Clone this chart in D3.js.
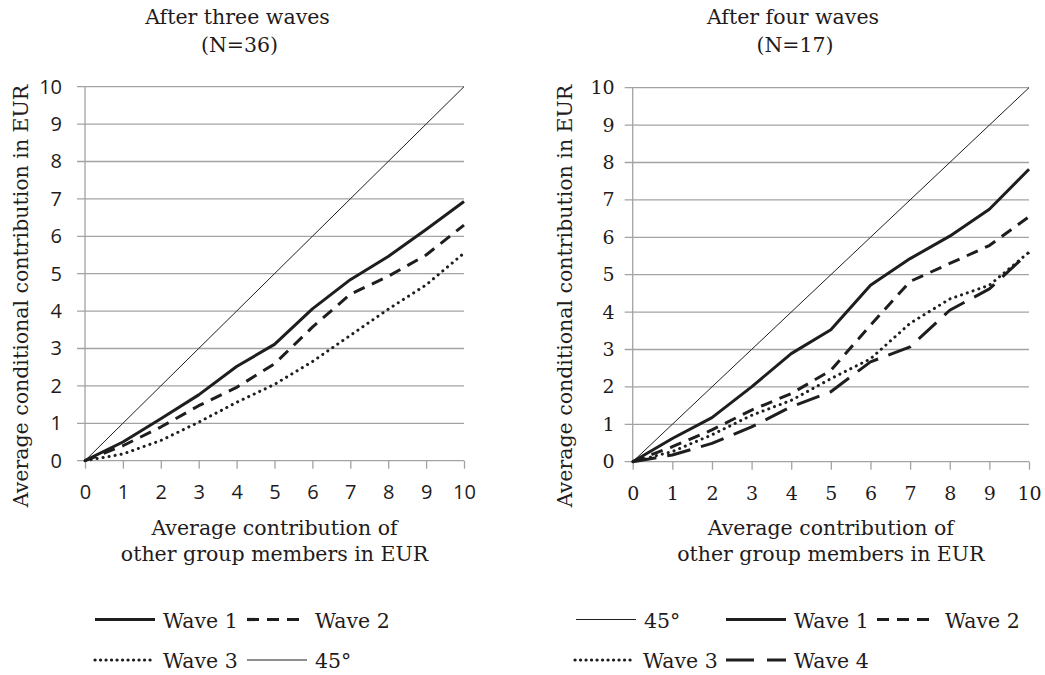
<!DOCTYPE html>
<html>
<head>
<meta charset="utf-8">
<script src="https://cdn.jsdelivr.net/npm/d3@7"></script>
<style>
  body { margin: 0; background: #fff; }
  svg { display: block; }
</style>
</head>
<body>
<div id="chart"></div>
<script>
// x values (average contribution of others, EUR)
const xVals = [0, 1, 2, 3, 4, 5, 6, 7, 8, 9, 10];
const ticks = [0, 1, 2, 3, 4, 5, 6, 7, 8, 9, 10];
const diag = [0, 1, 2, 3, 4, 5, 6, 7, 8, 9, 10];

// after three waves (N=36)
const threeWave1 = [0, 0.5, 1.12, 1.76, 2.52, 3.11, 4.06, 4.84, 5.46, 6.18, 6.93];
const threeWave2 = [0, 0.4, 0.9, 1.47, 1.96, 2.59, 3.57, 4.45, 4.93, 5.5, 6.3];
const threeWave3 = [0, 0.18, 0.54, 1.03, 1.56, 2.04, 2.65, 3.35, 4.05, 4.7, 5.55];

// after four waves (N=17)
const fourWave1 = [0, 0.62, 1.18, 2.0, 2.89, 3.53, 4.72, 5.43, 6.03, 6.75, 7.82];
const fourWave2 = [0, 0.4, 0.85, 1.38, 1.82, 2.44, 3.65, 4.82, 5.3, 5.78, 6.55];
const fourWave3 = [0, 0.27, 0.72, 1.24, 1.64, 2.22, 2.75, 3.7, 4.35, 4.72, 5.6];
const fourWave4 = [0, 0.18, 0.49, 0.93, 1.47, 1.87, 2.67, 3.07, 4.05, 4.62, 5.6];

const serif = "'DejaVu Serif', serif";
const sans = "'Open Sans', sans-serif";
const ink = "#1f1b1c";
const gridCol = "#a3a3a3";
const textSize = 20.5;

// line styles
const styles = {
  "45°":    { width: 1, dash: null, cap: "butt" },
  "Wave 1": { width: 3, dash: null, cap: "butt" },
  "Wave 2": { width: 3, dash: "12,8", cap: "butt" },
  "Wave 3": { width: 3, dash: "0.1,6", cap: "round" },
  "Wave 4": { width: 3, dash: "24,11", cap: "butt" }
};

const svg = d3.select("#chart").append("svg")
  .attr("width", 1045)
  .attr("height", 675);

function drawPanel(cfg) {
  const x = d3.scaleLinear().domain([0, 10]).range([cfg.x0, cfg.x1]);
  const y = d3.scaleLinear().domain([0, 10]).range([cfg.y0, cfg.y1]);
  const g = svg.append("g");

  // gridlines incl. the tick stub on the left
  g.selectAll(".grid")
    .data(ticks)
    .enter()
    .append("line")
    .attr("x1", cfg.x0 - 8)
    .attr("x2", cfg.x1)
    .attr("y1", d => y(d))
    .attr("y2", d => y(d))
    .attr("stroke", gridCol)
    .attr("stroke-width", 1.3);

  // vertical axis line
  g.append("line")
    .attr("x1", cfg.x0).attr("x2", cfg.x0)
    .attr("y1", y(0)).attr("y2", y(10))
    .attr("stroke", gridCol)
    .attr("stroke-width", 1.3);

  // y tick labels
  const yAxis = g.append("g")
    .attr("transform", "translate(" + cfg.x0 + ",0)")
    .call(d3.axisLeft(y).tickValues(ticks).tickSize(8).tickPadding(cfg.yPad).tickSizeOuter(0));
  yAxis.select(".domain").remove();
  yAxis.selectAll("line").remove();
  yAxis.selectAll("text")
    .attr("font-family", cfg.tickFont)
    .attr("font-size", cfg.tickSize)
    .attr("fill", ink);

  // x axis ticks + labels
  const xAxis = g.append("g")
    .attr("transform", "translate(0," + cfg.y0 + ")")
    .call(d3.axisBottom(x).tickValues(ticks).tickSize(8).tickSizeOuter(0));
  xAxis.select(".domain").remove();
  xAxis.selectAll("line").attr("stroke", gridCol).attr("stroke-width", 1.3);
  xAxis.selectAll("text")
    .attr("y", cfg.xLabelY)
    .attr("dy", 0)
    .attr("font-family", cfg.tickFont)
    .attr("font-size", cfg.tickSize)
    .attr("fill", ink);

  // series
  const line = d3.line()
    .x((d, i) => x(xVals[i]))
    .y(d => y(d));

  cfg.series.forEach(s => {
    const st = styles[s.name];
    g.append("path")
      .datum(s.values)
      .attr("d", line)
      .attr("fill", "none")
      .attr("stroke", "#1e1e1e")
      .attr("stroke-width", st.width)
      .attr("stroke-dasharray", st.dash)
      .attr("stroke-linecap", st.cap)
      .attr("stroke-linejoin", "round");
  });

  // titles
  const mid = (cfg.x0 + cfg.x1) / 2;
  g.append("text")
    .attr("x", cfg.titleX).attr("y", 24)
    .attr("text-anchor", "middle")
    .attr("font-family", serif).attr("font-size", textSize).attr("fill", ink)
    .text(cfg.title);
  g.append("text")
    .attr("x", cfg.titleX + 2).attr("y", 52)
    .attr("text-anchor", "middle")
    .attr("font-family", serif).attr("font-size", textSize).attr("fill", ink)
    .text(cfg.n);

  g.append("text")
    .attr("x", mid).attr("y", 535)
    .attr("text-anchor", "middle")
    .attr("font-family", serif).attr("font-size", textSize).attr("fill", ink)
    .text("Average contribution of");
  g.append("text")
    .attr("x", mid).attr("y", 561)
    .attr("text-anchor", "middle")
    .attr("font-family", serif).attr("font-size", textSize).attr("fill", ink)
    .text("other group members in EUR");

  g.append("text")
    .attr("transform", "translate(" + cfg.yTitleX + ",296) rotate(-90)")
    .attr("text-anchor", "middle")
    .attr("font-family", serif).attr("font-size", textSize).attr("fill", ink)
    .text("Average conditional contribution in EUR");

  // legend
  cfg.legend.forEach(item => {
    const st = styles[item.name];
    g.append("line")
      .attr("x1", item.lx).attr("x2", item.lx + 60)
      .attr("y1", item.ly).attr("y2", item.ly)
      .attr("stroke", "#1e1e1e")
      .attr("stroke-width", st.width === 1 ? 1 : 3.2)
      .attr("stroke-dasharray", item.name === "Wave 3" ? "0.1,5.4" : (item.name === "Wave 4" ? "28,13" : st.dash))
      .attr("stroke-linecap", st.cap);
    g.append("text")
      .attr("x", item.lx + 68).attr("y", item.ly + 8)
      .attr("font-family", serif).attr("font-size", textSize).attr("fill", ink)
      .text(item.name);
  });
}

drawPanel({
  x0: 85, x1: 464, y0: 460.7, y1: 86.7,
  tickFont: sans, tickSize: 20, yPad: 15, xLabelY: 38.5,
  title: "After three waves", n: "(N=36)", titleX: 237.5, yTitleX: 28,
  series: [
    { name: "45°", values: diag },
    { name: "Wave 3", values: threeWave3 },
    { name: "Wave 2", values: threeWave2 },
    { name: "Wave 1", values: threeWave1 }
  ],
  legend: [
    { name: "Wave 1", lx: 95, ly: 619.5 },
    { name: "Wave 2", lx: 247, ly: 619.5 },
    { name: "Wave 3", lx: 95, ly: 660 },
    { name: "45°", lx: 247, ly: 660 }
  ]
});

drawPanel({
  x0: 632.7, x1: 1029, y0: 461.7, y1: 87.7,
  tickFont: serif, tickSize: 19, yPad: 10, xLabelY: 38.3,
  title: "After four waves", n: "(N=17)", titleX: 793, yTitleX: 572,
  series: [
    { name: "45°", values: diag },
    { name: "Wave 4", values: fourWave4 },
    { name: "Wave 3", values: fourWave3 },
    { name: "Wave 2", values: fourWave2 },
    { name: "Wave 1", values: fourWave1 }
  ],
  legend: [
    { name: "45°", lx: 576, ly: 619.5 },
    { name: "Wave 1", lx: 726, ly: 619.5 },
    { name: "Wave 2", lx: 877, ly: 619.5 },
    { name: "Wave 3", lx: 575, ly: 660 },
    { name: "Wave 4", lx: 726, ly: 660 }
  ]
});
</script>
</body>
</html>
